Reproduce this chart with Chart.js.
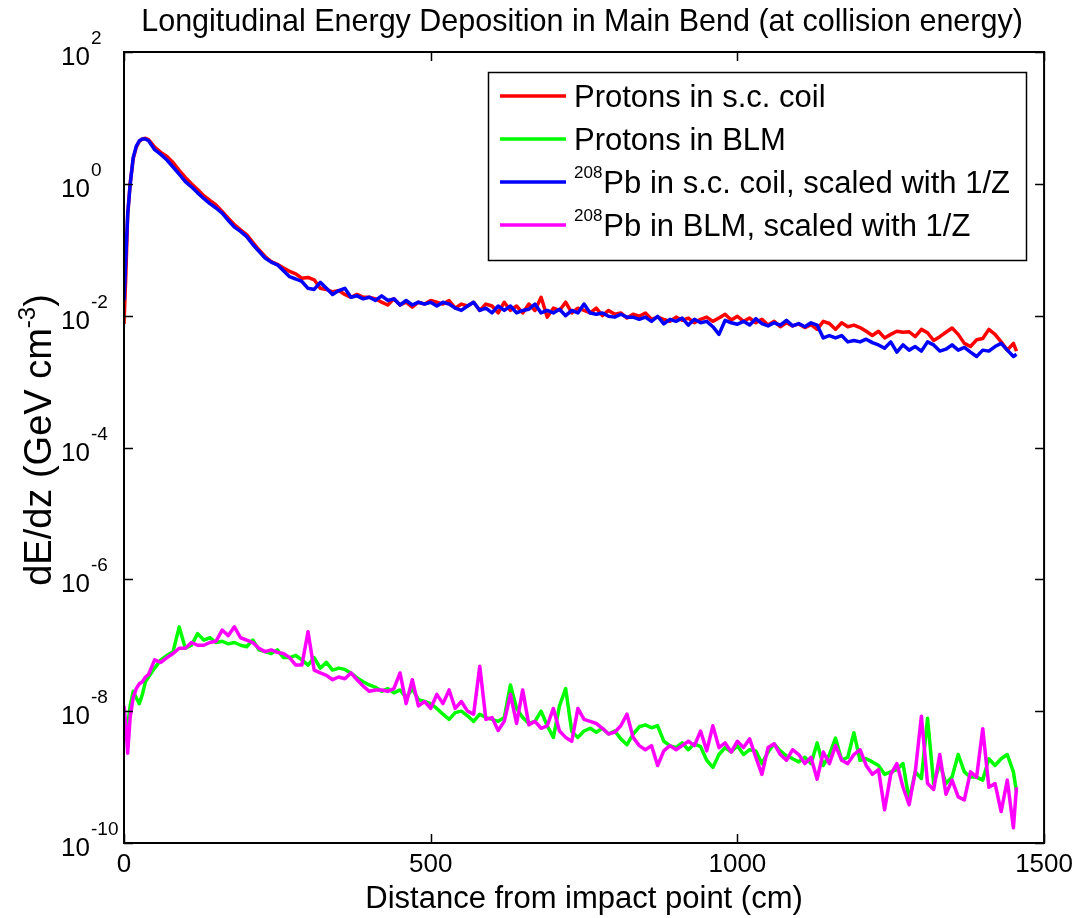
<!DOCTYPE html>
<html>
<head>
<meta charset="utf-8">
<title>Longitudinal Energy Deposition</title>
<script src="https://cdn.jsdelivr.net/npm/chart.js@4.4.1/dist/chart.umd.min.js"></script>
<style>
  html, body { margin: 0; padding: 0; background: #fff; }
  #wrap { width: 1079px; height: 918px; }
</style>
</head>
<body>
<div id="wrap"><canvas id="depoChart" width="1079" height="918"></canvas></div>
<script>
/* DATA */

// distance from impact point (cm)
const DIST = [
  0, 3, 6, 10, 15, 20, 25, 30, 35, 40,
  50, 60, 70, 80, 90, 100, 110, 120, 130, 140,
  150, 160, 170, 180, 190, 200, 210, 220, 230, 240,
  250, 260, 270, 280, 290, 300, 310, 320, 330, 340,
  350, 360, 370, 380, 390, 400, 410, 420, 430, 440,
  450, 460, 470, 480, 490, 500, 510, 520, 530, 540,
  550, 560, 570, 580, 590, 600, 610, 620, 630, 640,
  650, 660, 670, 680, 690, 700, 710, 720, 730, 740,
  750, 760, 770, 780, 790, 800, 810, 820, 830, 840,
  850, 860, 870, 880, 890, 900, 910, 920, 930, 940,
  950, 960, 970, 980, 990, 1000, 1010, 1020, 1030, 1040,
  1050, 1060, 1070, 1080, 1090, 1100, 1110, 1120, 1130, 1140,
  1150, 1160, 1170, 1180, 1190, 1200, 1210, 1220, 1230, 1240,
  1250, 1260, 1270, 1280, 1290, 1300, 1310, 1320, 1330, 1340,
  1350, 1360, 1370, 1380, 1390, 1400, 1410, 1420, 1430, 1440,
  1450, 1455
];

// dE/dz in GeV cm^-3
const protonsCoil = [
  7.5e-3, 0.042, 0.34, 1.0, 2.4, 3.6, 4.4, 4.8, 4.9, 4.7,
  3.6, 3.0, 2.6, 2.1, 1.6, 1.25, 1.0, 0.82, 0.66, 0.56,
  0.48, 0.38, 0.30, 0.24, 0.20, 0.17, 0.13, 0.10, 0.079, 0.066,
  0.060, 0.053, 0.047, 0.043, 0.037, 0.038, 0.035, 0.026, 0.025, 0.023,
  0.024, 0.021, 0.019, 0.021, 0.019, 0.019, 0.018, 0.016, 0.0145, 0.018,
  0.0145, 0.016, 0.0135, 0.016, 0.015, 0.017, 0.016, 0.015, 0.017, 0.013,
  0.015, 0.014, 0.016, 0.012, 0.015, 0.014, 0.011, 0.016, 0.012, 0.014,
  0.011, 0.015, 0.012, 0.019, 0.0095, 0.013, 0.012, 0.016, 0.011, 0.013,
  0.012, 0.011, 0.013, 0.010, 0.012, 0.0105, 0.011, 0.0092, 0.0105, 0.0098,
  0.011, 0.0088, 0.0095, 0.0088, 0.0082, 0.0095, 0.0085, 0.0092, 0.0078, 0.0088,
  0.0095, 0.0082, 0.0092, 0.0105, 0.0086, 0.0098, 0.0082, 0.0092, 0.0078, 0.0088,
  0.0072, 0.0082, 0.0068, 0.0078, 0.0070, 0.0075, 0.0066, 0.0073, 0.0062, 0.0082,
  0.0076, 0.0062, 0.0078, 0.0068, 0.0072, 0.0066, 0.0058, 0.0050, 0.0058, 0.0046,
  0.0052, 0.0058, 0.0056, 0.0057, 0.0048, 0.0062, 0.0055, 0.0042, 0.0048, 0.0056,
  0.0065, 0.0052, 0.0038, 0.0034, 0.0043, 0.0045, 0.0062, 0.0052, 0.0040, 0.0030,
  0.0038, 0.0029
];

const protonsBLM = [
  5e-9, 4e-9, 6e-9, 1.2e-8, 2e-8, 1.6e-8, 1.3e-8, 1.8e-8, 2.8e-8, 3.3e-8,
  4.5e-8, 6e-8, 7e-8, 8e-8, 1.9e-7, 9e-8, 1.0e-7, 1.5e-7, 1.2e-7, 1.3e-7,
  1.1e-7, 1.15e-7, 1.05e-7, 1.1e-7, 1.0e-7, 9.5e-8, 1.2e-7, 8.5e-8, 8e-8, 7.5e-8,
  8.5e-8, 6.5e-8, 6.5e-8, 7e-8, 6e-8, 5e-8, 6.5e-8, 4.5e-8, 5.5e-8, 4.2e-8,
  4.5e-8, 4.3e-8, 3.8e-8, 3.2e-8, 2.8e-8, 2.5e-8, 2.3e-8, 2e-8, 2.2e-8, 1.9e-8,
  2.1e-8, 1.6e-8, 2.2e-8, 1.5e-8, 1.4e-8, 1.3e-8, 1.1e-8, 9e-9, 7.5e-9, 9.5e-9,
  1.0e-8, 8.5e-9, 7e-9, 9e-9, 8e-9, 7.5e-9, 7e-9, 8e-9, 2.5e-8, 1.1e-8,
  8e-9, 6.5e-9, 7e-9, 1.0e-8, 6e-9, 4e-9, 1.2e-8, 2.2e-8, 4.9e-9, 4e-9,
  5e-9, 5.5e-9, 4.8e-9, 5.5e-9, 4.5e-9, 5e-9, 3.8e-9, 3.1e-9, 4.5e-9, 5.8e-9,
  6.2e-9, 5.6e-9, 6e-9, 3.5e-9, 3e-9, 2.8e-9, 3.3e-9, 2.6e-9, 3.2e-9, 2.9e-9,
  1.8e-9, 1.4e-9, 2.2e-9, 2.8e-9, 2.4e-9, 3e-9, 2.2e-9, 2.6e-9, 2.5e-9, 1.6e-9,
  2.4e-9, 3.2e-9, 2.5e-9, 2.1e-9, 1.9e-9, 1.7e-9, 2.0e-9, 1.6e-9, 3.3e-9, 1.5e-9,
  2.2e-9, 3.9e-9, 1.8e-9, 2.0e-9, 4.7e-9, 1.8e-9, 1.9e-9, 1.7e-9, 1.5e-9, 1.1e-9,
  1.2e-9, 1.3e-9, 1.6e-9, 4.5e-10, 1.2e-9, 9.5e-10, 7.8e-9, 8e-10, 1.6e-9, 8e-10,
  1.0e-9, 2.2e-9, 1.2e-9, 1.0e-9, 1.0e-9, 9e-10, 1.9e-9, 1.5e-9, 1.9e-9, 2.2e-9,
  1.2e-9, 6e-10
];

const leadCoil = [
  0.017, 0.076, 0.34, 0.97, 2.5, 3.7, 4.5, 4.8, 4.8, 4.5,
  3.3, 2.8, 2.3, 1.8, 1.4, 1.08, 0.9, 0.73, 0.6, 0.5,
  0.43, 0.36, 0.28, 0.22, 0.19, 0.158, 0.12, 0.095, 0.075, 0.065,
  0.059, 0.048, 0.039, 0.036, 0.033, 0.026, 0.025, 0.032, 0.026, 0.021,
  0.024, 0.026, 0.019, 0.020, 0.018, 0.019, 0.017, 0.020, 0.017, 0.018,
  0.0145, 0.017, 0.0145, 0.016, 0.015, 0.016, 0.014, 0.016, 0.015, 0.013,
  0.012, 0.014, 0.016, 0.012, 0.013, 0.011, 0.014, 0.012, 0.014, 0.011,
  0.012, 0.0125, 0.015, 0.011, 0.012, 0.011, 0.0125, 0.010, 0.012, 0.011,
  0.015, 0.011, 0.0105, 0.011, 0.0098, 0.0095, 0.0105, 0.0095, 0.0095, 0.0088,
  0.0095, 0.0082, 0.0098, 0.0075, 0.0088, 0.0082, 0.0092, 0.0072, 0.0088, 0.0078,
  0.0082, 0.0068, 0.0052, 0.0085, 0.0078, 0.0074, 0.0082, 0.0072, 0.0090, 0.0076,
  0.0070, 0.0078, 0.0072, 0.0085, 0.0070, 0.0076, 0.0068, 0.0078, 0.0072, 0.0046,
  0.0050, 0.0046, 0.0050, 0.0040, 0.0042, 0.0040, 0.0044, 0.0039, 0.0036, 0.0032,
  0.0040, 0.0028, 0.0036, 0.0030, 0.0034, 0.0029, 0.0040, 0.0036, 0.0029, 0.0031,
  0.0036, 0.0030, 0.0033, 0.0028, 0.0024, 0.0030, 0.0029, 0.0034, 0.0038, 0.0030,
  0.0024, 0.0026
];

const leadBLM = [
  1.2e-8, 6e-9, 2.3e-9, 8e-9, 1.6e-8, 2.2e-8, 2.6e-8, 2.8e-8, 3.3e-8, 3.6e-8,
  6e-8, 5.5e-8, 6.5e-8, 7.5e-8, 9e-8, 9e-8, 1.1e-7, 1.0e-7, 1.0e-7, 1.1e-7,
  1.15e-7, 1.7e-7, 1.4e-7, 1.9e-7, 1.3e-7, 1.2e-7, 1.1e-7, 9e-8, 8e-8, 8.5e-8,
  7.8e-8, 7.5e-8, 6.5e-8, 5e-8, 5e-8, 1.6e-7, 4.2e-8, 3.8e-8, 3.5e-8, 3e-8,
  3.3e-8, 3.1e-8, 3.8e-8, 3e-8, 2.4e-8, 2e-8, 2.1e-8, 2.1e-8, 2.0e-8, 2.2e-8,
  3.8e-8, 1.3e-8, 3e-8, 1.2e-8, 1.4e-8, 1.1e-8, 1.8e-8, 1.3e-8, 2.1e-8, 1.1e-8,
  1.4e-8, 1.0e-8, 9e-9, 4.8e-8, 7.5e-9, 8e-9, 5.1e-9, 7e-9, 1.8e-8, 6.5e-9,
  2.1e-8, 6.2e-9, 7e-9, 5.5e-9, 6e-9, 1.1e-8, 5e-9, 4e-9, 3.5e-9, 1.1e-8,
  7.5e-9, 7e-9, 6.5e-9, 5.5e-9, 4.5e-9, 4.8e-9, 6e-9, 9e-9, 4e-9, 3e-9,
  2.6e-9, 3e-9, 1.5e-9, 2.5e-9, 3e-9, 2.6e-9, 3e-9, 3.5e-9, 3e-9, 5e-9,
  2.5e-9, 6e-9, 2.8e-9, 3.3e-9, 2.4e-9, 3.5e-9, 2.8e-9, 3.8e-9, 2e-9, 1.1e-9,
  2.8e-9, 3.2e-9, 2.2e-9, 1.8e-9, 2.6e-9, 2.2e-9, 1.6e-9, 2.0e-9, 9.3e-10, 2.4e-9,
  1.6e-9, 3e-9, 1.8e-9, 1.6e-9, 2.2e-9, 2.6e-9, 1.5e-9, 1.1e-9, 1.3e-9, 3.2e-10,
  1.1e-9, 1.6e-9, 7e-10, 3.8e-10, 1.2e-9, 8.4e-9, 8e-10, 6.5e-10, 2.2e-9, 5.5e-10,
  9e-10, 5e-10, 4.5e-10, 1.2e-9, 1e-9, 5.4e-9, 7e-10, 8e-10, 3e-10, 9e-10,
  1.7e-10, 7e-10
];

// y axis decades that carry a label, x axis label positions
const yExponents = [2, 0, -2, -4, -6, -8, -10];
const xTicks = [0, 500, 1000, 1500];

const seriesNames = [
  { sup: "", text: "Protons in s.c. coil" },
  { sup: "", text: "Protons in BLM" },
  { sup: "208", text: "Pb in s.c. coil, scaled with 1/Z" },
  { sup: "208", text: "Pb in BLM, scaled with 1/Z" }
];
const seriesColors = ["#ff0000", "#00ff00", "#0000ff", "#ff00ff"];

const FONT = "'Liberation Sans', Arial, Helvetica, sans-serif";

/* DECORATIONS: box, inward ticks, power-of-ten labels, titles, legend */

const decor = {
  id: "decor",
  afterDatasetsDraw(chart) {
    const { ctx, chartArea: a, scales } = chart;
    const xs = scales.x, ys = scales.y;
    ctx.save();
    ctx.fillStyle = "#000";
    ctx.strokeStyle = "#000";

    // frame
    ctx.lineWidth = 2;
    ctx.strokeRect(a.left, a.top, a.right - a.left, a.bottom - a.top);

    // inward tick marks
    ctx.lineWidth = 1.5;
    const TL = 9;
    ctx.beginPath();
    xTicks.forEach(v => {
      const px = Math.round(xs.getPixelForValue(v)) + 0.5;
      ctx.moveTo(px, a.bottom); ctx.lineTo(px, a.bottom - TL);
      ctx.moveTo(px, a.top); ctx.lineTo(px, a.top + TL);
    });
    yExponents.forEach(e => {
      const py = Math.round(ys.getPixelForValue(Math.pow(10, e))) + 0.5;
      ctx.moveTo(a.left, py); ctx.lineTo(a.left + TL, py);
      ctx.moveTo(a.right, py); ctx.lineTo(a.right - TL, py);
    });
    ctx.stroke();

    // y tick labels as 10^n
    const baseRight = a.left - 34;
    yExponents.forEach(e => {
      const py = ys.getPixelForValue(Math.pow(10, e));
      ctx.font = "26px " + FONT;
      ctx.textAlign = "right";
      ctx.textBaseline = "alphabetic";
      ctx.fillText("10", baseRight, py + 13);
      ctx.font = "19px " + FONT;
      ctx.textAlign = "left";
      ctx.fillText(String(e), baseRight + 1, py - 8);
    });

    // chart title
    ctx.font = "30.5px " + FONT;
    ctx.textAlign = "center";
    ctx.textBaseline = "middle";
    ctx.fillText("Longitudinal Energy Deposition in Main Bend (at collision energy)",
      (a.left + a.right) / 2 - 2, 23);

    // y axis title, rotated, with superscript
    const yMain = "dE/dz (GeV cm", ySup = "-3", yEnd = ")";
    const yFont = 38, ySupFont = 24;
    ctx.font = yFont + "px " + FONT;
    const w1 = ctx.measureText(yMain).width, w3 = ctx.measureText(yEnd).width;
    ctx.font = ySupFont + "px " + FONT;
    const w2 = ctx.measureText(ySup).width;
    const total = w1 + w2 + w3;
    ctx.translate(51, 440);
    ctx.rotate(-Math.PI / 2);
    ctx.textAlign = "left";
    ctx.textBaseline = "alphabetic";
    let tx = -total / 2;
    ctx.font = yFont + "px " + FONT;
    ctx.fillText(yMain, tx, 0);
    tx += w1;
    ctx.font = ySupFont + "px " + FONT;
    ctx.fillText(ySup, tx, -16);
    tx += w2;
    ctx.font = yFont + "px " + FONT;
    ctx.fillText(yEnd, tx, 0);
    ctx.setTransform(1, 0, 0, 1, 0, 0);

    // legend box in the upper right of the plot area
    const rowH = 43, padL = 12, lineLen = 66, gap = 8, padR = 16;
    const txtFont = "31px " + FONT, supFont = "17px " + FONT;
    let maxW = 0;
    seriesNames.forEach(s => {
      ctx.font = supFont;
      let w = s.sup ? ctx.measureText(s.sup).width + 1 : 0;
      ctx.font = txtFont;
      w += ctx.measureText(s.text).width;
      maxW = Math.max(maxW, w);
    });
    const boxW = Math.round(padL + lineLen + gap + maxW + padR);
    const boxH = rowH * seriesNames.length + 16;
    const bx = Math.round(a.right - 18 - boxW), by = a.top + 20;
    ctx.fillStyle = "#fff";
    ctx.fillRect(bx, by, boxW, boxH);
    ctx.strokeStyle = "#000";
    ctx.lineWidth = 1.5;
    ctx.strokeRect(bx + 0.5, by + 0.5, boxW, boxH);
    seriesNames.forEach((s, i) => {
      const ry = by + 24 + i * rowH;
      ctx.strokeStyle = seriesColors[i];
      ctx.lineWidth = 3.5;
      ctx.beginPath();
      ctx.moveTo(bx + padL, ry);
      ctx.lineTo(bx + padL + lineLen, ry);
      ctx.stroke();
      ctx.fillStyle = "#000";
      ctx.textAlign = "left";
      ctx.textBaseline = "alphabetic";
      let lx = bx + padL + lineLen + gap;
      if (s.sup) {
        ctx.font = supFont;
        ctx.fillText(s.sup, lx, ry - 4);
        lx += ctx.measureText(s.sup).width + 1;
      }
      ctx.font = txtFont;
      ctx.fillText(s.text, lx, ry + 11);
    });

    ctx.restore();
  }
};

/* CHART */

function points(values) {
  return DIST.map((d, i) => ({ x: d, y: values[i] }));
}

const allSeries = [protonsCoil, protonsBLM, leadCoil, leadBLM];
// draw order: lead curves on top of the proton curves
const drawOrder = [3, 2, 1, 0];

new Chart(document.getElementById("depoChart"), {
  type: "line",
  data: {
    datasets: allSeries.map((vals, i) => ({
      label: seriesNames[i].sup + seriesNames[i].text,
      data: points(vals),
      borderColor: seriesColors[i],
      borderWidth: 3.5,
      borderJoinStyle: "round",
      pointRadius: 0,
      tension: 0,
      fill: false,
      order: drawOrder[i]
    }))
  },
  options: {
    responsive: false,
    devicePixelRatio: 1,
    animation: false,
    events: [],
    layout: { padding: { top: 52, right: 34, left: 0, bottom: 0 } },
    plugins: {
      legend: { display: false },
      tooltip: { enabled: false },
      title: { display: false }
    },
    scales: {
      x: {
        type: "linear",
        min: 0,
        max: 1500,
        grid: { display: false, drawTicks: false },
        border: { display: false },
        afterBuildTicks: s => { s.ticks = xTicks.map(v => ({ value: v })); },
        ticks: {
          color: "#000",
          font: { family: FONT, size: 26 },
          padding: 6,
          maxRotation: 0,
          autoSkip: false,
          callback: v => String(v)
        },
        title: {
          display: true,
          text: "Distance from impact point (cm)",
          color: "#000",
          font: { family: FONT, size: 31 },
          padding: { top: 0, bottom: 0 }
        },
        afterFit: s => { s.height = 75; }
      },
      y: {
        type: "logarithmic",
        min: 1e-10,
        max: 1e2,
        grid: { display: false, drawTicks: false },
        border: { display: false },
        ticks: { display: false },
        afterFit: s => { s.width = 124; }
      }
    }
  },
  plugins: [decor]
});
</script>
</body>
</html>
